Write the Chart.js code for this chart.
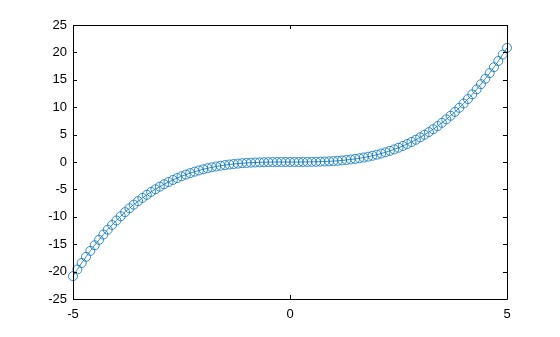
<!DOCTYPE html>
<html>
<head>
<meta charset="utf-8">
<script src="https://cdn.jsdelivr.net/npm/chart.js@4/dist/chart.umd.min.js"></script>
<style>
  html, body { margin: 0; padding: 0; background: #fff; }
  .wrap { position: relative; width: 560px; height: 337px; }
</style>
</head>
<body>
<div class="wrap"><canvas id="plot"></canvas></div>
<script>
// sample points
const xValues = [
  -5, -4.9, -4.8, -4.7, -4.6, -4.5, -4.4, -4.3, -4.2, -4.1,
  -4, -3.9, -3.8, -3.7, -3.6, -3.5, -3.4, -3.3, -3.2, -3.1,
  -3, -2.9, -2.8, -2.7, -2.6, -2.5, -2.4, -2.3, -2.2, -2.1,
  -2, -1.9, -1.8, -1.7, -1.6, -1.5, -1.4, -1.3, -1.2, -1.1,
  -1, -0.9, -0.8, -0.7, -0.6, -0.5, -0.4, -0.3, -0.2, -0.1,
  0, 0.1, 0.2, 0.3, 0.4, 0.5, 0.6, 0.7, 0.8, 0.9,
  1, 1.1, 1.2, 1.3, 1.4, 1.5, 1.6, 1.7, 1.8, 1.9,
  2, 2.1, 2.2, 2.3, 2.4, 2.5, 2.6, 2.7, 2.8, 2.9,
  3, 3.1, 3.2, 3.3, 3.4, 3.5, 3.6, 3.7, 3.8, 3.9,
  4, 4.1, 4.2, 4.3, 4.4, 4.5, 4.6, 4.7, 4.8, 4.9, 5
];
const yValues = [
  -20.83, -19.61, -18.43, -17.30, -16.22, -15.19, -14.20, -13.25, -12.35, -11.49,
  -10.67, -9.89, -9.15, -8.44, -7.78, -7.15, -6.55, -5.99, -5.46, -4.97,
  -4.50, -4.06, -3.66, -3.28, -2.93, -2.60, -2.30, -2.03, -1.77, -1.54,
  -1.33, -1.14, -0.97, -0.82, -0.68, -0.56, -0.46, -0.37, -0.29, -0.22,
  -0.17, -0.12, -0.09, -0.06, -0.04, -0.02, -0.01, 0, 0, 0,
  0, 0, 0, 0, 0.01, 0.02, 0.04, 0.06, 0.09, 0.12,
  0.17, 0.22, 0.29, 0.37, 0.46, 0.56, 0.68, 0.82, 0.97, 1.14,
  1.33, 1.54, 1.77, 2.03, 2.30, 2.60, 2.93, 3.28, 3.66, 4.06,
  4.50, 4.97, 5.46, 5.99, 6.55, 7.15, 7.78, 8.44, 9.15, 9.89,
  10.67, 11.49, 12.35, 13.25, 14.20, 15.19, 16.22, 17.30, 18.43, 19.61, 20.83
];
const xTicks = [-5, 0, 5];
const yTicks = [-25, -20, -15, -10, -5, 0, 5, 10, 15, 20, 25];

const lineColor = "#0072BD";
const font = { family: "'Liberation Sans', Arial, Helvetica, sans-serif", size: 13 };

// box round the axes with small ticks pointing inwards on all four sides
const axesBox = {
  id: "axesBox",
  afterDraw(chart) {
    const { ctx, chartArea: a, scales } = chart;
    const len = 4;
    ctx.save();
    ctx.strokeStyle = "#000";
    ctx.lineWidth = 1;
    ctx.beginPath();
    ctx.rect(Math.round(a.left) + 0.5, Math.round(a.top) + 0.5,
      Math.round(a.right - a.left), Math.round(a.bottom - a.top));
    scales.x.ticks.forEach((t) => {
      const px = Math.round(scales.x.getPixelForValue(t.value)) + 0.5;
      ctx.moveTo(px, a.bottom);
      ctx.lineTo(px, a.bottom - len);
      ctx.moveTo(px, a.top);
      ctx.lineTo(px, a.top + len);
    });
    scales.y.ticks.forEach((t) => {
      const py = Math.round(scales.y.getPixelForValue(t.value)) + 0.5;
      ctx.moveTo(a.left, py);
      ctx.lineTo(a.left + len, py);
      ctx.moveTo(a.right, py);
      ctx.lineTo(a.right - len, py);
    });
    ctx.stroke();
    ctx.restore();
  },
};

new Chart(document.getElementById("plot"), {
  type: "line",
  data: {
    datasets: [
      {
        data: xValues.map((x, i) => ({ x: x, y: yValues[i] })),
        borderColor: lineColor,
        borderWidth: 0.8,
        pointStyle: "circle",
        pointRadius: 4.5,
        pointBorderWidth: 0.8,
        pointBorderColor: lineColor,
        pointBackgroundColor: "rgba(0,0,0,0)",
        tension: 0,
        fill: false,
      },
    ],
  },
  options: {
    responsive: true,
    maintainAspectRatio: false,
    animation: false,
    clip: false,
    layout: { padding: { left: 0, top: 25, right: 53, bottom: 0 } },
    plugins: {
      legend: { display: false },
      tooltip: { enabled: false },
    },
    scales: {
      x: {
        type: "linear",
        min: -5,
        max: 5,
        afterBuildTicks: (s) => { s.ticks = xTicks.map((v) => ({ value: v })); },
        afterFit: (s) => { s.height = 38; },
        grid: { display: false, drawTicks: false },
        border: { display: false },
        ticks: { color: "#000", font: font, padding: 8, maxRotation: 0 },
      },
      y: {
        type: "linear",
        min: -25,
        max: 25,
        afterBuildTicks: (s) => { s.ticks = yTicks.map((v) => ({ value: v })); },
        afterFit: (s) => { s.width = 73; },
        grid: { display: false, drawTicks: false },
        border: { display: false },
        ticks: { color: "#000", font: font, padding: 6 },
      },
    },
  },
  plugins: [axesBox],
});
</script>
</body>
</html>
